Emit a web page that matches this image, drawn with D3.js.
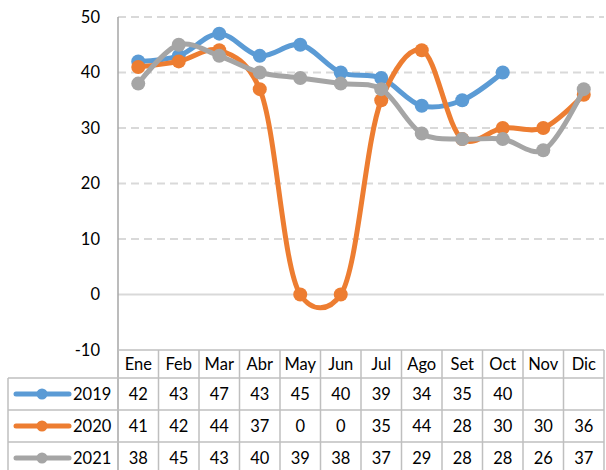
<!DOCTYPE html>
<html>
<head>
<meta charset="utf-8">
<script src="https://cdn.jsdelivr.net/npm/d3@7"></script>
<style>
  body { margin: 0; background: #fff; }
  svg text { font-family: Lato, "Open Sans", sans-serif; fill: #000; }
</style>
</head>
<body>
<svg width="606" height="470"></svg>
<script>
var months = ["Ene", "Feb", "Mar", "Abr", "May", "Jun", "Jul", "Ago", "Set", "Oct", "Nov", "Dic"];
var yTicks = [-10, 0, 10, 20, 30, 40, 50];
var names = ["2019", "2020", "2021"];
var colors = ["#5B9BD5", "#ED7D31", "#A5A5A5"];
var v2019 = [42, 43, 47, 43, 45, 40, 39, 34, 35, 40, null, null];
var v2020 = [41, 42, 44, 37, 0, 0, 35, 44, 28, 30, 30, 36];
var v2021 = [38, 45, 43, 40, 39, 38, 37, 29, 28, 28, 26, 37];

var series = [v2019, v2020, v2021].map(function(vals, i) {
  return { name: names[i], color: colors[i], values: vals };
});

var svg = d3.select("svg");
var pLeft = 118, pRight = 604, pTop = 17, pBottom = 350;
var rowH = 32, headH = 28, legendX = 8;
var fs = "16.5px";

var x = d3.scaleBand().domain(months).range([pLeft, pRight]);
var y = d3.scaleLinear().domain([-10, 50]).range([pBottom, pTop]);

// gridlines
svg.selectAll("line.grid")
  .data(yTicks.filter(function(d) { return d > -10; }))
  .enter().append("line")
  .attr("class", "grid")
  .attr("x1", pLeft).attr("x2", pRight)
  .attr("y1", function(d) { return y(d); })
  .attr("y2", function(d) { return y(d); })
  .style("stroke", "#D9D9D9")
  .style("stroke-width", 2)
  .style("stroke-dasharray", function(d) { return d == 0 ? null : "8,5"; });

// y axis
var yAxis = d3.axisLeft(y).tickValues(yTicks).tickSize(0).tickPadding(18)
  .tickFormat(function(d) { return String(d); });
var gY = svg.append("g").attr("transform", "translate(" + pLeft + ",0)").call(yAxis);
gY.select(".domain").remove();
gY.selectAll("text").style("font-size", fs).style("font-family", "Lato, sans-serif");

var tableBottom = pBottom + headH + rowH * 3;
svg.append("line")
  .attr("x1", pLeft).attr("x2", pLeft).attr("y1", pTop).attr("y2", tableBottom)
  .style("stroke", "#A6A6A6").style("stroke-width", 1.5);

// data table
var tbl = svg.append("g");
tbl.selectAll("line.col")
  .data(months)
  .enter().append("line")
  .attr("x1", function(d) { return x(d) + x.bandwidth(); })
  .attr("x2", function(d) { return x(d) + x.bandwidth(); })
  .attr("y1", pBottom).attr("y2", tableBottom)
  .style("stroke", "#BFBFBF").style("stroke-width", 1.5);
tbl.append("line")
  .attr("x1", pLeft).attr("x2", pRight).attr("y1", pBottom).attr("y2", pBottom)
  .style("stroke", "#BFBFBF").style("stroke-width", 1.5);
tbl.selectAll("line.row")
  .data([0, 1, 2, 3])
  .enter().append("line")
  .attr("x1", legendX).attr("x2", pRight)
  .attr("y1", function(d) { return pBottom + headH + d * rowH; })
  .attr("y2", function(d) { return pBottom + headH + d * rowH; })
  .style("stroke", "#BFBFBF").style("stroke-width", 1.5);
tbl.append("line")
  .attr("x1", legendX).attr("x2", legendX).attr("y1", pBottom + headH).attr("y2", tableBottom)
  .style("stroke", "#BFBFBF").style("stroke-width", 1.5);

tbl.selectAll("text.month")
  .data(months)
  .enter().append("text")
  .attr("x", function(d) { return x(d) + x.bandwidth() / 2; })
  .attr("y", pBottom + headH / 2 + 6)
  .attr("text-anchor", "middle")
  .style("font-size", fs)
  .text(function(d) { return d; });

series.forEach(function(s, i) {
  var cy = pBottom + headH + i * rowH + rowH / 2;
  tbl.append("line")
    .attr("x1", 16).attr("x2", 69).attr("y1", cy).attr("y2", cy)
    .style("stroke", s.color).style("stroke-width", 5).style("stroke-linecap", "round");
  tbl.append("circle").attr("cx", 42).attr("cy", cy).attr("r", 5.5).style("fill", s.color);
  tbl.append("text").attr("x", 73).attr("y", cy + 6).style("font-size", fs).text(s.name);
  tbl.selectAll(null)
    .data(s.values)
    .enter().append("text")
    .attr("x", function(d, j) { return x(months[j]) + x.bandwidth() / 2; })
    .attr("y", cy + 6)
    .attr("text-anchor", "middle")
    .style("font-size", fs)
    .text(function(d) { return d == null ? "" : d; });
});

// lines
var line = d3.line()
  .defined(function(d) { return d != null; })
  .x(function(d, j) { return x(months[j]) + x.bandwidth() / 2; })
  .y(function(d) { return y(d); })
  .curve(d3.curveCatmullRom.alpha(0.25));

series.forEach(function(s) {
  var g = svg.append("g");
  g.append("path")
    .attr("d", line(s.values))
    .style("fill", "none")
    .style("stroke", s.color)
    .style("stroke-width", 5)
    .style("stroke-linecap", "round")
    .style("stroke-linejoin", "round");
  g.selectAll("circle")
    .data(s.values.map(function(v, j) { return { v: v, m: months[j] }; }).filter(function(d) { return d.v != null; }))
    .enter().append("circle")
    .attr("cx", function(d) { return x(d.m) + x.bandwidth() / 2; })
    .attr("cy", function(d) { return y(d.v); })
    .attr("r", 7)
    .style("fill", s.color);
});
</script>
</body>
</html>
